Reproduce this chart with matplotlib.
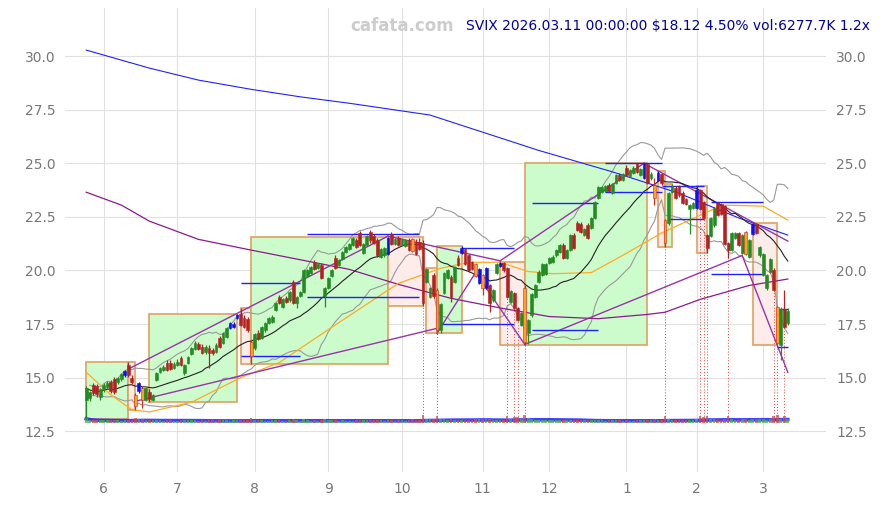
import matplotlib
matplotlib.use("Agg")
import matplotlib.pyplot as plt
from matplotlib.patches import Rectangle
import numpy as np
import pandas as pd

# SVIX daily candles 2025-05-23 .. 2026-03-11 (trading-day index 0..200)
opens = [
    13.95, 14.05, 14.65, 14.6, 14.1, 14.45, 14.55, 14.8, 14.95, 14.8,
    14.95, 15.1, 15.6, 15.0, 14.2, 14.4, 14.5, 13.95, 14.35, 13.95,
    14.9, 15.25, 15.35, 15.7, 15.7, 15.45, 15.6, 15.9, 15.2, 15.7,
    16.1, 16.35, 16.55, 16.45, 16.2, 16.4, 16.3, 16.2, 16.85, 16.6,
    16.9, 17.3, 17.35, 17.8, 17.95, 17.8, 17.75, 16.65, 16.4, 17.1,
    16.85, 17.2, 17.55, 17.6, 18.15, 18.75, 18.3, 18.7, 18.6, 19.45,
    18.5, 18.8, 19.0, 19.75, 19.9, 20.4, 20.1, 20.25, 18.8, 19.2,
    19.75, 20.6, 20.25, 20.55, 20.85, 21.0, 21.2, 21.4, 21.75, 20.8,
    21.2, 21.8, 21.6, 21.4, 20.65, 20.7, 20.75, 21.7, 21.25, 21.5,
    21.2, 21.15, 21.4, 21.45, 21.35, 21.35, 21.3, 19.45, 18.75, 19.8,
    19.1, 17.2, 18.95, 19.65, 19.7, 19.45, 20.6, 20.8, 21.0, 20.7,
    20.4, 20.3, 19.4, 19.8, 19.2, 19.3, 18.6, 19.9, 20.2, 20.35,
    20.1, 18.55, 18.95, 18.25, 17.45, 19.2, 17.1, 17.9, 18.75, 19.45,
    19.8, 19.85, 20.35, 20.4, 20.7, 20.85, 21.2, 20.6, 20.95, 21.65,
    22.2, 22.15, 21.65, 22.1, 22.0, 22.45, 23.4, 23.65, 23.7, 24.0,
    23.6, 24.1, 24.45, 24.2, 24.8, 24.4, 24.55, 24.95, 24.45, 24.3,
    24.95, 24.3, 24.0, 24.2, 24.5, 22.35, 22.2, 23.65, 23.85, 23.95,
    23.6, 23.35, 22.85, 22.9, 22.9, 23.75, 23.2, 21.65, 21.6, 22.1,
    23.15, 23.1, 23.0, 21.3, 20.95, 21.5, 21.75, 20.8, 21.8, 20.65,
    21.7, 22.15, 20.7, 19.8, 19.2, 19.95, 20.0, 18.3, 16.5, 18.2,
    17.55,
]
highs = [
    14.6, 14.4, 14.75, 14.7, 14.5, 14.75, 14.85, 14.9, 15.05, 15.05,
    15.2, 15.35, 15.72, 15.1, 14.3, 14.8, 14.6, 14.55, 14.45, 14.25,
    15.25, 15.5, 15.6, 15.8, 15.8, 15.75, 15.85, 16.0, 15.65, 16.0,
    16.45, 16.7, 16.65, 16.55, 16.5, 16.5, 16.4, 16.6, 16.95, 17.15,
    17.35, 17.6, 17.6, 17.96, 18.24, 17.9, 17.85, 16.75, 17.1, 17.2,
    17.4, 17.6, 17.85, 17.9, 18.55, 18.85, 18.7, 18.8, 19.05, 19.55,
    18.8, 19.05, 20.05, 20.05, 20.2, 20.5, 20.35, 20.35, 19.25, 19.7,
    20.05, 20.7, 20.55, 20.9, 21.15, 21.3, 21.55, 21.5, 21.85, 21.3,
    21.65, 21.9, 21.7, 21.5, 21.05, 21.1, 21.55, 21.8, 21.5, 21.6,
    21.5, 21.45, 21.5, 21.5, 21.45, 21.5, 21.4, 20.1, 19.25, 19.9,
    19.2, 18.5, 19.95, 20.05, 19.8, 20.2, 20.7, 21.13, 21.05, 20.75,
    20.45, 20.35, 20.1, 19.85, 20.15, 19.35, 19.15, 20.35, 20.4, 20.4,
    20.15, 19.1, 19.0, 18.3, 18.05, 19.3, 17.75, 18.95, 19.35, 20.0,
    20.35, 20.35, 20.65, 20.7, 21.0, 21.25, 21.3, 21.0, 21.7, 21.75,
    22.3, 22.25, 22.0, 22.2, 22.5, 23.25, 23.95, 23.95, 24.0, 24.1,
    24.1, 24.5, 24.55, 24.55, 24.9, 24.75, 24.85, 25.0, 24.8, 25.0,
    25.0, 24.6, 24.3, 24.65, 24.55, 22.4, 23.65, 24.05, 23.95, 24.0,
    23.7, 23.4, 23.1, 23.2, 23.93, 23.8, 23.25, 21.7, 22.5, 22.95,
    23.2, 23.15, 23.05, 21.35, 21.8, 21.8, 21.8, 21.7, 21.85, 21.45,
    22.2, 22.2, 21.15, 20.8, 19.85, 20.6, 20.1, 18.35, 18.3, 19.1,
    18.25,
]
lows = [
    13.05, 13.9, 14.2, 14.1, 13.95, 14.35, 14.45, 14.3, 14.25, 14.7,
    14.85, 15.05, 15.05, 14.7, 13.5, 14.3, 13.6, 13.9, 13.85, 13.9,
    14.85, 15.2, 15.3, 15.3, 15.35, 15.4, 15.55, 15.55, 15.1, 15.65,
    16.05, 16.3, 16.3, 16.1, 16.1, 15.45, 16.05, 16.15, 16.4, 16.55,
    16.85, 17.25, 17.3, 17.75, 17.4, 17.3, 17.15, 15.63, 16.3, 16.75,
    16.8, 17.15, 17.5, 17.55, 18.1, 18.45, 18.25, 18.5, 18.55, 18.45,
    18.25, 18.75, 18.95, 19.7, 19.85, 20.0, 20.05, 19.6, 18.3, 19.15,
    19.7, 20.05, 20.2, 20.5, 20.8, 20.95, 21.15, 21.05, 21.15, 20.75,
    21.15, 21.3, 21.25, 20.65, 20.6, 20.65, 20.7, 21.2, 21.2, 21.15,
    21.15, 21.1, 20.9, 20.85, 20.7, 20.95, 18.35, 19.4, 18.7, 18.7,
    17.07, 17.1, 18.9, 19.6, 18.55, 19.4, 20.2, 20.75, 20.25, 19.95,
    20.0, 19.7, 19.35, 18.85, 19.15, 18.05, 18.55, 19.85, 20.15, 19.95,
    18.7, 18.5, 18.2, 17.65, 17.4, 16.5, 16.55, 17.85, 18.7, 19.4,
    19.75, 19.8, 20.3, 20.35, 20.65, 20.8, 20.55, 20.55, 20.9, 21.0,
    21.85, 21.75, 21.6, 21.45, 21.95, 22.4, 23.35, 23.6, 23.65, 23.65,
    23.55, 24.05, 24.15, 24.15, 24.4, 24.35, 24.5, 24.55, 24.4, 24.25,
    24.05, 24.2, 23.05, 24.15, 24.0, 21.1, 22.1, 23.6, 23.35, 23.45,
    23.1, 23.05, 21.7, 22.85, 22.85, 22.8, 22.4, 20.8, 21.55, 22.05,
    22.55, 22.6, 21.2, 20.6, 20.9, 21.45, 21.15, 20.75, 20.7, 20.6,
    21.65, 21.7, 20.65, 19.75, 19.1, 19.9, 19.05, 16.5, 15.8, 17.3,
    17.45,
]
closes = [
    14.5, 14.35, 14.3, 14.25, 14.45, 14.65, 14.75, 14.4, 14.35, 15.0,
    15.15, 15.3, 15.1, 14.8, 13.7, 14.75, 13.95, 14.5, 14.0, 14.2,
    15.2, 15.45, 15.5, 15.35, 15.4, 15.65, 15.75, 15.6, 15.6, 15.95,
    16.4, 16.6, 16.35, 16.15, 16.45, 16.15, 16.15, 16.5, 16.45, 17.1,
    17.3, 17.55, 17.5, 17.9, 17.45, 17.35, 17.2, 16.0, 17.05, 16.8,
    17.35, 17.55, 17.8, 17.85, 18.5, 18.5, 18.65, 18.55, 19.0, 18.5,
    18.75, 19.0, 20.0, 20.0, 20.15, 20.05, 20.3, 19.65, 19.2, 19.65,
    20.0, 20.1, 20.5, 20.85, 21.1, 21.25, 21.5, 21.1, 21.2, 21.25,
    21.6, 21.4, 21.3, 20.7, 21.0, 21.05, 21.5, 21.25, 21.45, 21.2,
    21.45, 21.4, 20.95, 20.9, 20.75, 21.0, 18.5, 20.05, 19.2, 18.8,
    17.2, 18.45, 19.9, 20.0, 18.75, 20.15, 20.25, 21.05, 20.3, 20.0,
    20.05, 19.75, 20.05, 19.2, 20.1, 18.5, 19.1, 20.3, 20.35, 20.0,
    18.75, 19.05, 18.25, 17.7, 18.0, 16.65, 17.7, 18.9, 19.3, 19.95,
    20.3, 20.3, 20.6, 20.65, 20.95, 21.2, 20.6, 20.95, 21.65, 21.05,
    21.9, 21.8, 21.95, 21.5, 22.45, 23.2, 23.9, 23.9, 23.95, 23.7,
    24.05, 24.45, 24.2, 24.5, 24.45, 24.7, 24.8, 24.6, 24.75, 24.95,
    24.1, 24.5, 23.4, 24.55, 24.1, 21.3, 23.6, 23.95, 23.4, 23.5,
    23.15, 23.1, 23.05, 23.15, 23.75, 22.85, 22.45, 21.05, 22.45, 22.9,
    22.6, 22.65, 21.25, 20.95, 21.75, 21.75, 21.2, 21.65, 20.75, 21.4,
    22.15, 21.75, 21.1, 20.75, 19.8, 20.55, 19.1, 16.6, 18.2, 17.34,
    18.12,
]
volumes = [  # thousands of shares
    9500, 5200, 4800, 4500, 5000, 4100, 4300, 4700, 5400, 4200,
    3900, 4400, 5800, 5100, 8200, 6500, 7400, 5600, 4900, 4500,
    5300, 4200, 3800, 4600, 4400, 3900, 3700, 4800, 5200, 4100,
    4600, 4300, 3900, 4200, 3800, 5500, 4000, 3700, 4500, 4800,
    4400, 3900, 4700, 5100, 5600, 4700, 5200, 8800, 5400, 4300,
    4100, 3900, 3800, 4400, 4000, 4600, 3700, 3600, 4200, 5900,
    4300, 3900, 6100, 4200, 3800, 4500, 3700, 5200, 6400, 4300,
    4100, 5000, 3800, 4200, 3900, 3700, 3600, 4300, 4900, 4400,
    4000, 4600, 4200, 5100, 4300, 3900, 5700, 4800, 3800, 4400,
    4100, 3900, 4600, 6200, 5800, 4500, 13500, 7200, 6100, 6800,
    12800, 6900, 6300, 5400, 6600, 5200, 4900, 5600, 5300, 5800,
    4700, 6400, 5900, 6700, 6000, 7300, 5100, 5400, 5200, 5600,
    11800, 6200, 11200, 10800, 6500, 14200, 7800, 6400, 5800, 5600,
    5200, 4700, 4400, 4600, 4200, 4300, 4800, 4100, 4900, 4600,
    5000, 4700, 4300, 5100, 4200, 5300, 5500, 4100, 3900, 4300,
    4000, 4200, 4100, 3800, 4400, 3900, 3700, 4300, 4000, 5200,
    5600, 4400, 6300, 5100, 4800, 12600, 6100, 4900, 4700, 5000,
    4800, 4600, 5500, 4900, 6000, 11900, 11400, 12300, 6700, 5900,
    5400, 5600, 7100, 12100, 6800, 5200, 5700, 5900, 6600, 5800,
    6200, 5900, 6400, 6100, 5800, 6300, 13200, 15100, 7600, 12400,
    6278,
]

orange_days = [14, 16, 47, 93, 100, 111, 113, 125, 162, 165, 188, 197]
blue_days = [11, 15, 41, 42, 43, 86, 107, 112, 114, 118, 159, 163, 174, 190]
signal_days = [96, 100, 120, 122, 123, 125, 165, 175, 176, 177, 183, 196, 197, 199]

month_pos = [5, 26, 48, 69, 90, 113, 132, 154, 174, 193]
month_labels = ['6', '7', '8', '9', '10', '11', '12', '1', '2', '3']

# swing boxes
box_start = [0, 12, 18, 44, 47, 86, 97, 100, 118, 125, 163, 165, 174, 190]
box_end = [12, 14, 43, 47, 86, 96, 100, 107, 125, 160, 165, 167, 177, 197]
box_low = [13.05, 13.5, 13.85, 15.63, 15.63, 18.35, 17.07, 17.07, 16.5, 16.5, 21.1, 21.1, 20.8, 16.5]
box_high = [15.72, 15.72, 17.96, 18.24, 21.55, 21.55, 20.1, 21.13, 20.4, 25.0, 24.65, 24.05, 23.93, 22.2]
box_up = [True, False, True, False, True, False, False, True, False, True, False, True, False, False]

# support / resistance segments
level_start = [44, 44, 63, 63, 107, 101, 127, 127, 148, 148, 164, 166, 178, 178, 197, 197]
level_end = [61, 61, 95, 95, 122, 122, 146, 146, 164, 164, 176, 176, 193, 193, 200, 200]
level_value = [16.0, 19.4, 21.7, 18.75, 21.05, 17.5, 23.14, 17.2, 25.0, 23.65,
               23.95, 22.4, 23.2, 19.85, 18.2, 16.45]

# trend lines
trend_x0 = [12, 14, 86, 100, 111, 118, 125, 187, 159]
trend_x1 = [86, 100, 118, 111, 125, 159, 187, 200, 200]
trend_y0 = [15.4, 13.9, 21.6, 17.07, 19.9, 20.45, 16.55, 20.7, 25.0]
trend_y1 = [21.6, 17.3, 20.45, 19.9, 16.55, 25.0, 20.7, 15.25, 21.37]

# long moving averages
ma_long_x = [0, 10, 18, 32, 41, 47, 61, 75, 89, 104, 118, 132, 146, 160, 165, 175, 189, 200]
ma_long_y = [23.65, 23.05, 22.3, 21.45, 21.15, 20.95, 20.5, 20.05, 19.35, 18.7, 18.25,
             17.85, 17.75, 17.95, 18.05, 18.65, 19.3, 19.6]
ma_slow_x = [0, 18, 32, 47, 61, 75, 98, 129, 150, 169, 186, 200]
ma_slow_y = [30.28, 29.44, 28.88, 28.45, 28.1, 27.8, 27.25, 25.6, 24.6, 23.6, 22.45, 21.65]
ma_mid_x = [0, 7, 13, 18, 30, 44, 55, 70, 89, 101, 109, 118, 126, 133, 144, 154, 164,
            178, 181, 193, 200]
ma_mid_y = [15.25, 14.2, 13.5, 13.4, 13.85, 15.0, 15.7, 17.35, 19.4, 20.1, 20.38, 20.38,
            19.95, 19.85, 19.9, 20.8, 21.75, 22.8, 23.05, 23.0, 22.35]

title = 'SVIX 2026.03.11 00:00:00 $18.12 4.50% vol:6277.7K 1.2x'

df = pd.DataFrame({'open': opens, 'high': highs, 'low': lows,
                   'close': closes, 'volume': volumes})
df['high'] = df[['open', 'high', 'close']].max(axis=1)
df['low'] = df[['open', 'low', 'close']].min(axis=1)
x = np.arange(len(df))

fig = plt.figure(figsize=(8.81, 5.05), dpi=100)
ax = fig.add_axes([0.074, 0.065, 0.864, 0.919])

# boxes
for s, e, lo, hi, up in zip(box_start, box_end, box_low, box_high, box_up):
    ax.add_patch(Rectangle((s, lo), e - s, hi - lo,
                           facecolor='#ccfccc' if up else '#fdecea',
                           edgecolor='#e0a060', lw=1.2, zorder=1))

# bollinger (20) + mid line
mid = df['close'].rolling(20, min_periods=1).mean()
sd = df['close'].rolling(20, min_periods=2).std()
ax.plot(x, mid + 2 * sd, color='#999999', lw=0.8, zorder=2)
ax.plot(x, mid - 2 * sd, color='#999999', lw=0.8, zorder=2)
ax.plot(x, mid, color='#222222', lw=0.8, zorder=2.6)

ax.plot(ma_long_x, ma_long_y, color='#8b1a8b', lw=0.9, zorder=2.5)
ax.plot(ma_slow_x, ma_slow_y, color='#2020ff', lw=0.8, zorder=2.5)
ax.plot(ma_mid_x, ma_mid_y, color='#ffaa22', lw=0.9, zorder=2.5)

for x0, x1, y0, y1 in zip(trend_x0, trend_x1, trend_y0, trend_y1):
    ax.plot([x0, x1], [y0, y1], color='#9933aa', lw=1.0, zorder=2.5)

ax.hlines(level_value, level_start, level_end, color='#1f1fff', lw=1.0, zorder=2.7)

# volume strip at the bottom
vbase = 12.9
vscale = 0.38 / df['volume'].max()
up = df['close'] >= df['open']
vcol = np.where(up, '#4caf50', '#d05050')
ax.bar(x, df['volume'] * vscale, bottom=vbase, width=0.75, color=vcol, alpha=0.75, zorder=2.9)
vma = df['volume'].rolling(20, min_periods=1).mean()
ax.plot(x, vbase + vma * vscale * 0.75, color='#1f1fff', lw=2.6, alpha=0.85, zorder=2.8)

# signal markers
ax.vlines(signal_days, 12.95, df['low'].iloc[signal_days], colors='#dd4444',
          linestyles=(0, (1, 2)), lw=0.7, zorder=2)

# candles
face = np.where(up, '#228b22', '#b22222').astype(object)
edge = face.copy()
for i in orange_days:
    face[i] = '#ffa020'
    edge[i] = '#d03020'
for i in blue_days:
    face[i] = '#1010ee'
    edge[i] = '#1010ee'
body_lo = df[['open', 'close']].min(axis=1)
body_h = (df['open'] - df['close']).abs().clip(lower=0.03)
ax.vlines(x, df['low'], df['high'], colors=list(edge), lw=0.9, zorder=3)
ax.bar(x, body_h, bottom=body_lo, width=0.8, color=list(face),
       edgecolor=list(edge), lw=0.4, zorder=4)

ax.set_xlim(-6, 211)
ax.set_ylim(10.59, 32.24)
ax.set_yticks([12.5, 15, 17.5, 20, 22.5, 25, 27.5, 30])
ax.yaxis.set_major_formatter('{x:.1f}')
ax.set_xticks(month_pos, month_labels)
ax.tick_params(length=0, labelsize=10, colors='#777777', labelright=True, pad=7)
ax.grid(color='#e0e0e0', lw=0.8)
ax.set_axisbelow(True)
for sp in ax.spines.values():
    sp.set_visible(False)

fig.text(0.456, 0.948, 'cafata.com', ha='center', va='center', color='#cccccc',
         fontsize=12, fontweight='bold')
fig.text(0.988, 0.948, title, ha='right', va='center', color='#0000a0', fontsize=10)

fig.savefig('out.png', dpi=100)
